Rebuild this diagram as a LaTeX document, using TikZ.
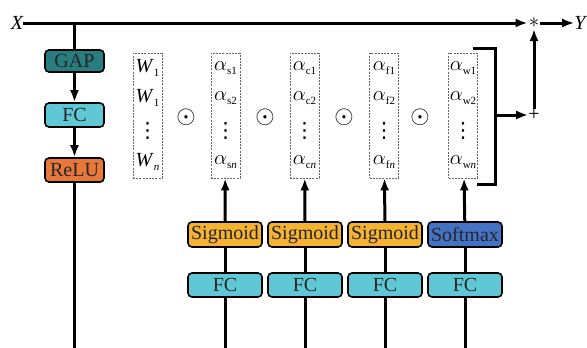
\documentclass[tikz,border=0pt]{standalone}
\usepackage{fontspec}
\setmainfont{Liberation Serif}
\newfontfamily\symfont{DejaVu Sans}
\usetikzlibrary{arrows.meta}

\definecolor{gapteal}{RGB}{40,126,126}
\definecolor{fccyan}{RGB}{96,200,212}
\definecolor{reluorange}{RGB}{232,120,58}
\definecolor{sigyellow}{RGB}{246,178,50}
\definecolor{softblue}{RGB}{68,114,196}

\newcommand{\wsub}[1]{\textit{W}\raisebox{-4pt}{\fontsize{11}{11}\selectfont #1}}
\newcommand{\asub}[1]{$\alpha$\raisebox{-4pt}{\fontsize{11}{11}\selectfont #1}}

\tikzset{
  block/.style={draw=black,line width=1.6pt,rounded corners=4pt,minimum height=24pt,
    inner sep=0pt,text=black!85,font=\fontsize{20}{20}\selectfont},
  vecbox/.style={draw=black!60,dash pattern=on 2pt off 1.2pt,line width=0.7pt,
    minimum width=29pt,minimum height=125pt,inner sep=0pt},
  entry/.style={inner sep=0pt,font=\fontsize{20}{20}\selectfont},
  vdot/.style={inner sep=0pt,font=\fontsize{21}{21}\selectfont\symfont},
  flow/.style={line width=3pt},
  flowarrow/.style={flow,-{Latex[length=12pt,width=9pt]}},
}

\begin{document}
\begin{tikzpicture}[x=1pt,y=-1pt]
      \useasboundingbox (0,0) rectangle (587,348);

      % input, output and the two joins
      \node [entry,font=\fontsize{20}{20}\selectfont\itshape] (xin) at (17,23) {X};
      \node [inner sep=1pt] (mul) at (534,23) {\fontsize{20}{20}\selectfont$\ast$};
      \node [entry,font=\fontsize{20}{20}\selectfont\itshape] (yout) at (580,23) {Y};
      \node [entry] (plus) at (534,115) {+};

      \draw [flowarrow] (xin) to (mul);
      \draw [flowarrow] (mul) to (yout);
      \draw [flowarrow] (plus) to (mul);

      % left branch
      \coordinate (split) at (74.5,23);
      \node [block,fill=gapteal,minimum width=59pt,minimum height=22pt] (gap) at (74.5,61) {GAP};
      \node [block,fill=fccyan,minimum width=59pt] (fc0) at (74.5,115) {FC};
      \node [block,fill=reluorange,minimum width=59pt] (relu) at (74.5,170) {ReLU};
      \coordinate (b0) at (74.5,348);

      \draw [flow] (split) to (gap);
      \draw [flowarrow] (gap) to (fc0);
      \draw [flowarrow] (fc0) to (relu);
      \draw [flow] (relu) to (b0);

      % weight vector
      \node [vecbox] (wvec) at (147.5,115.5) {};
      \node [entry] at (147.5,68) {\wsub{1}};
      \node [entry] at (147.5,98) {\wsub{1}};
      \node [vdot] at (147.5,131) {⋮};
      \node [entry] at (147.5,162) {\wsub{\textit{n}}};

      \node [entry,font=\fontsize{23}{23}\selectfont] (dot1) at (186,117) {$\odot$};

      % attention vectors
      \node [vecbox] (svec) at (225.5,115.5) {};
      \node [entry] at (225.5,68) {\asub{s1}};
      \node [entry] at (225.5,98) {\asub{s2}};
      \node [vdot] at (225.5,131) {⋮};
      \node [entry] at (225.5,162) {\asub{s\textit{n}}};

      \node [entry,font=\fontsize{23}{23}\selectfont] (dot2) at (265,117) {$\odot$};

      \node [vecbox] (cvec) at (304.5,115.5) {};
      \node [entry] at (304.5,68) {\asub{c1}};
      \node [entry] at (304.5,98) {\asub{c2}};
      \node [vdot] at (304.5,131) {⋮};
      \node [entry] at (304.5,162) {\asub{c\textit{n}}};

      \node [entry,font=\fontsize{23}{23}\selectfont] (dot3) at (344,117) {$\odot$};

      \node [vecbox] (fvec) at (384,115.5) {};
      \node [entry] at (384,68) {\asub{f1}};
      \node [entry] at (384,98) {\asub{f2}};
      \node [vdot] at (384,131) {⋮};
      \node [entry] at (384,162) {\asub{f\textit{n}}};

      \node [entry,font=\fontsize{23}{23}\selectfont] (dot4) at (420,117) {$\odot$};

      \node [vecbox] (wdvec) at (463,115.5) {};
      \node [entry] at (463,68) {\asub{w1}};
      \node [entry] at (463,98) {\asub{w2}};
      \node [vdot] at (463,131) {⋮};
      \node [entry] at (463,162) {\asub{w\textit{n}}};

      % bracket into the sum
      \coordinate (brtop) at (473,48);
      \coordinate (brbot) at (477,184);
      \coordinate (brmid) at (495,115);
      \draw [flow] (brtop) to (495,48) to (495,184) to (brbot);
      \draw [flowarrow] (brmid) to (plus);

      % lower branches
      \node [block,fill=sigyellow,minimum width=74pt,minimum height=25pt] (sig1) at (225,234.5) {Sigmoid};
      \node [block,fill=sigyellow,minimum width=74pt,minimum height=25pt] (sig2) at (305,234.5) {Sigmoid};
      \node [block,fill=sigyellow,minimum width=74pt,minimum height=25pt] (sig3) at (385,234.5) {Sigmoid};
      \node [block,fill=softblue,minimum width=74pt,minimum height=25pt] (soft) at (465,234.5) {Softmax};

      \node [block,fill=fccyan,minimum width=74pt] (fc1) at (225,285) {FC};
      \node [block,fill=fccyan,minimum width=74pt] (fc2) at (305,285) {FC};
      \node [block,fill=fccyan,minimum width=74pt] (fc3) at (385,285) {FC};
      \node [block,fill=fccyan,minimum width=74pt] (fc4) at (465,285) {FC};

      \coordinate (b1) at (225,348);
      \coordinate (b2) at (305,348);
      \coordinate (b3) at (385,348);
      \coordinate (b4) at (465,348);

      \draw [flow] (b1) to (fc1);
      \draw [flow] (fc1) to (sig1);
      \draw [flowarrow] (sig1) to (svec);
      \draw [flow] (b2) to (fc2);
      \draw [flow] (fc2) to (sig2);
      \draw [flowarrow] (sig2) to (cvec);
      \draw [flow] (b3) to (fc3);
      \draw [flow] (fc3) to (sig3);
      \draw [flowarrow] (sig3) to (fvec);
      \draw [flow] (b4) to (fc4);
      \draw [flow] (fc4) to (soft);
      \draw [flowarrow] (soft) to (wdvec);

    \end{tikzpicture}
\end{document}
